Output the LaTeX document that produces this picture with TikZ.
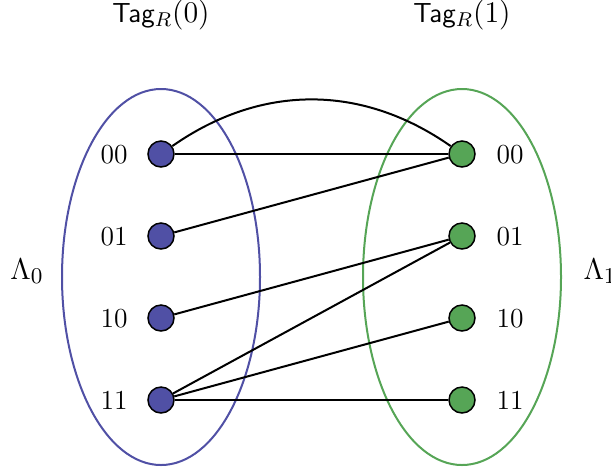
\documentclass[tikz,border=0pt]{standalone}
\definecolor{lblue}{RGB}{80,80,165}
\definecolor{lgreen}{RGB}{86,165,86}
\tikzset{
  vtx/.style={circle,draw=black,line width=0.6pt,minimum size=10.4pt,inner sep=0pt},
  bvtx/.style={vtx,fill=lblue},
  gvtx/.style={vtx,fill=lgreen},
  edge/.style={draw=black,line width=0.8pt},
  lab/.style={font=\fontsize{11}{13}\selectfont,anchor=base,inner sep=0pt},
  toplab/.style={anchor=base,inner sep=0pt,font=\fontsize{12}{14}\selectfont},
  set/.style={line width=0.8pt}
}
\newcommand{\tagfont}{\fontsize{11}{13}\selectfont\sffamily}
\begin{document}
\begin{tikzpicture}[x=0.4pt,y=-0.4pt]
\useasboundingbox (0,0) rectangle (611,468);
% ellipses
\draw[set,draw=lblue] (161,277) ellipse [x radius=99, y radius=188];
\draw[set,draw=lgreen] (462,277) ellipse [x radius=99, y radius=188];
% nodes
\node[bvtx] (l00) at (161,154) {};
\node[bvtx] (l01) at (161,236) {};
\node[bvtx] (l10) at (161,318) {};
\node[bvtx] (l11) at (161,400) {};
\node[gvtx] (r00) at (462,154) {};
\node[gvtx] (r01) at (462,236) {};
\node[gvtx] (r10) at (462,318) {};
\node[gvtx] (r11) at (462,400) {};
% edges
\draw[edge] (l00) -- (r00);
\draw[edge] (l00) to[bend left=35] (r00);
\draw[edge] (l01) -- (r00);
\draw[edge] (l10) -- (r01);
\draw[edge] (l11) -- (r01);
\draw[edge] (l11) -- (r10);
\draw[edge] (l11) -- (r11);
% labels
\node[lab] (t00) at (114,163) {00};
\node[lab] (t01) at (114,245) {01};
\node[lab] (t10) at (114,327) {10};
\node[lab] (t11) at (114,409) {11};
\node[lab] (s00) at (510,163) {00};
\node[lab] (s01) at (510,245) {01};
\node[lab] (s10) at (510,327) {10};
\node[lab] (s11) at (510,409) {11};
\node[toplab] (tag0) at (161,22) {\textsf{\tagfont Tag}$_R(0)$};
\node[toplab] (tag1) at (462,22) {\textsf{\tagfont Tag}$_R(1)$};
\node[font=\fontsize{12.5}{15}\selectfont,anchor=base west,inner sep=0pt] (lam0) at (10,279) {$\Lambda_0$};
\node[font=\fontsize{12.5}{15}\selectfont,anchor=base west,inner sep=0pt] (lam1) at (583,279) {$\Lambda_1$};
\end{tikzpicture}
\end{document}
